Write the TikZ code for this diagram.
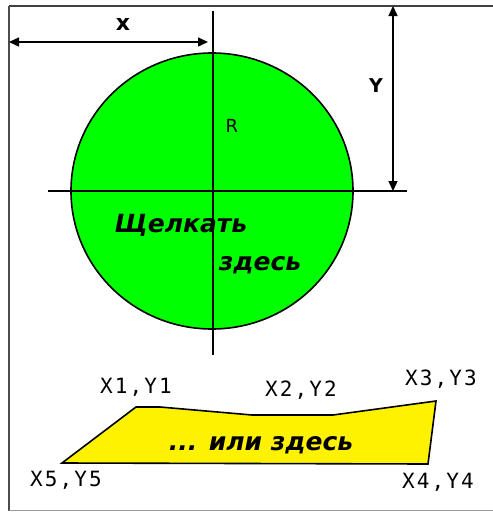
\documentclass[tikz,border=0pt]{standalone}
\usepackage{fontspec}
\setmainfont{DejaVu Sans}
\newfontfamily\labfont[LetterSpace=10]{DejaVu Sans Mono}
\usetikzlibrary{arrows.meta}
\begin{document}
\begin{tikzpicture}[x=1pt,y=-1pt,
  dim/.style={{Triangle[length=10pt,width=9pt]}-{Triangle[length=10pt,width=9pt]}, line width=1.4pt},
  axis/.style={line width=1.3pt},
  corner/.style={font=\labfont\fontsize{21}{23}\selectfont, inner sep=0pt},
  hint/.style={font=\bfseries\itshape\fontsize{25}{27}\selectfont, inner sep=0pt}]
\useasboundingbox (0,0) rectangle (493,512);
% frame
\draw[line width=2pt, black!75] (9,6) -- (493,6);
\draw[line width=1.5pt, black!70] (9,6) -- (9,511);
\draw[line width=1pt, black!40] (9,510.5) -- (493,510.5);
% circle
\coordinate (c) at (212,191);
\filldraw[fill=green, line width=1.6pt] (c) ellipse [x radius=141, y radius=138];
\coordinate (vt) at (213,11);
\coordinate (vb) at (213,355);
\coordinate (hl) at (48,191);
\coordinate (hr) at (407,191);
\draw[axis] (vt) -- (vb);
\draw[axis] (hl) -- (hr);
% dimensions
\coordinate (xs) at (9,42);
\coordinate (xe) at (208,42);
\coordinate (ys) at (393,6);
\coordinate (ye) at (393,191);
\draw[dim] (xs) -- (xe);
\draw[dim] (ys) -- (ye);
\node[font=\bfseries\fontsize{22}{24}\selectfont, inner sep=0pt] (xl) at (123,24) {x};
\node[font=\bfseries\fontsize{19}{21}\selectfont, inner sep=0pt] (yl) at (376,86) {Y};
\node[font=\fontsize{18}{20}\selectfont, inner sep=0pt] (rl) at (232,126) {R};
\node[hint] (h1) at (181,225) {Щелкать};
\node[hint] (h2) at (260,265) {здесь};
% polygon
\coordinate (p1) at (136,407);
\coordinate (p2) at (252,415);
\coordinate (p3) at (436,401);
\coordinate (p4) at (428,464);
\coordinate (p5) at (62,463);
\filldraw[fill=yellow, line width=1.6pt] (p5) -- (p1) -- (160,407) -- (p2) -- (333,415) -- (p3) -- (p4) -- cycle;
\node[hint] (h3) at (261,445) {... или здесь};
\node[corner] (l1) at (136,387) {X1,Y1};
\node[corner] (l2) at (301,390) {X2,Y2};
\node[corner] (l3) at (441,379) {X3,Y3};
\node[corner] (l4) at (438,482) {X4,Y4};
\node[corner] (l5) at (66,480) {X5,Y5};
\end{tikzpicture}
\end{document}
